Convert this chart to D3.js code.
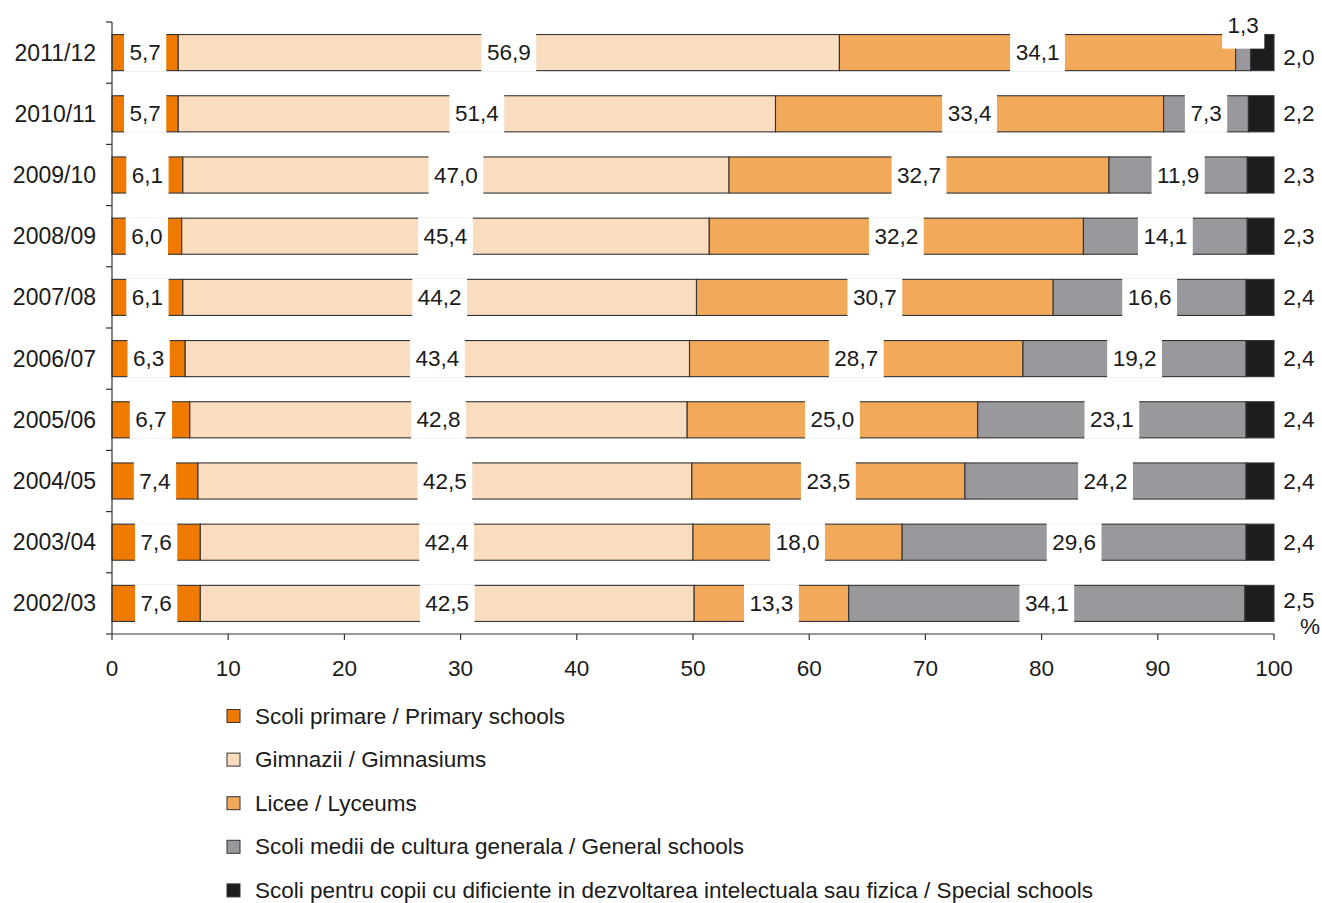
<!DOCTYPE html>
<html>
<head>
<meta charset="utf-8">
<script src="https://cdn.jsdelivr.net/npm/d3@7"></script>
<style>
  html, body { margin: 0; padding: 0; background: #fff; }
  svg text { font-family: "Liberation Sans", Arial, sans-serif; fill: #1a1a1a; }
</style>
</head>
<body>
<svg id="chart" width="1322" height="903"></svg>
<script>
const categories = ["2011/12","2010/11","2009/10","2008/09","2007/08","2006/07","2005/06","2004/05","2003/04","2002/03"];
const primary  = [5.7, 5.7, 6.1, 6.0, 6.1, 6.3, 6.7, 7.4, 7.6, 7.6];
const gimnazii = [56.9, 51.4, 47.0, 45.4, 44.2, 43.4, 42.8, 42.5, 42.4, 42.5];
const licee    = [34.1, 33.4, 32.7, 32.2, 30.7, 28.7, 25.0, 23.5, 18.0, 13.3];
const general  = [1.3, 7.3, 11.9, 14.1, 16.6, 19.2, 23.1, 24.2, 29.6, 34.1];
const special  = [2.0, 2.2, 2.3, 2.3, 2.4, 2.4, 2.4, 2.4, 2.4, 2.5];
const seriesKeys = ["primary","gimnazii","licee","general","special"];
const seriesNames = [
  "Scoli primare / Primary schools",
  "Gimnazii / Gimnasiums",
  "Licee / Lyceums",
  "Scoli medii de cultura generala / General schools",
  "Scoli pentru copii cu dificiente in dezvoltarea intelectuala sau fizica / Special schools"
];
const seriesColors = ["#EE7A00","#FADDBF","#F3A95A","#99989D","#1D1D20"];
const xTicks = [0,10,20,30,40,50,60,70,80,90,100];
const unitLabel = "%";

const FS = 22.5;
const svg = d3.select("#chart");
const fmt = v => d3.format(".1f")(v).replace(".", ",");

const table = categories.map((c, i) => ({
  cat: c, primary: primary[i], gimnazii: gimnazii[i], licee: licee[i], general: general[i], special: special[i]
}));
const stacked = d3.stack().keys(seriesKeys)(table);

const x = d3.scaleLinear().domain([0, 100]).range([112, 1274]);
const y = d3.scaleBand().domain(categories).range([22, 634]).paddingInner(0.41).paddingOuter(0.205);
const color = d3.scaleOrdinal().domain(seriesKeys).range(seriesColors);

// bars
const g = svg.append("g");
stacked.forEach(layer => {
  g.append("g").selectAll("rect").data(layer).join("rect")
    .attr("x", d => x(d[0]))
    .attr("y", d => y(d.data.cat))
    .attr("width", d => x(d[1]) - x(d[0]))
    .attr("height", y.bandwidth())
    .attr("fill", color(layer.key))
    .attr("stroke", "#333")
    .attr("stroke-width", 1.1);
});

// y axis
const step = y.step();
const axisG = svg.append("g").attr("stroke", "#333").attr("stroke-width", 1.2);
axisG.append("line").attr("x1", x(0)).attr("x2", x(0)).attr("y1", 22).attr("y2", 634);
const boundaries = categories.map(c => y(c) - step * y.paddingInner() / 2).concat([634]);
axisG.selectAll(".yt").data(boundaries).join("line")
  .attr("x1", x(0) - 6).attr("x2", x(0)).attr("y1", d => d).attr("y2", d => d);
// x axis
axisG.append("line").attr("x1", x(0)).attr("x2", x(100)).attr("y1", 634).attr("y2", 634);
axisG.selectAll(".xt").data(xTicks).join("line")
  .attr("x1", d => x(d)).attr("x2", d => x(d)).attr("y1", 634).attr("y2", 640);

svg.append("g").selectAll("text").data(xTicks).join("text")
  .attr("x", d => x(d)).attr("y", 668)
  .attr("text-anchor", "middle").attr("dominant-baseline", "central")
  .attr("font-size", FS).text(d => d);

svg.append("g").selectAll("text").data(categories).join("text")
  .attr("x", 96).attr("y", d => y(d) + y.bandwidth() / 2)
  .attr("text-anchor", "end").attr("dominant-baseline", "central")
  .attr("font-size", 23).text(d => d);

// value labels with white boxes (first four series)
const labelG = svg.append("g");
stacked.slice(0, 4).forEach(layer => {
  layer.forEach(d => {
    const cx = (x(d[0]) + x(d[1])) / 2;
    const cy = y(d.data.cat) + y.bandwidth() / 2;
    const txt = fmt(d[1] - d[0]);
    const t = labelG.append("text")
      .attr("x", cx).attr("font-size", FS)
      .attr("text-anchor", "middle").attr("dominant-baseline", "central")
      .text(txt);
    const w = t.node().getComputedTextLength() + 11;
    const segW = x(d[1]) - x(d[0]);
    let boxY = y(d.data.cat) - 1, boxH = y.bandwidth() + 2, ty = cy;
    if (w > segW) { boxY = y(d.data.cat) - 24; boxH = y.bandwidth() + 2; ty = cy - 27; }
    t.attr("y", ty);
    labelG.insert("rect", () => t.node())
      .attr("x", cx - w / 2).attr("y", boxY).attr("width", w).attr("height", boxH)
      .attr("fill", "#fff");
  });
});

// special labels to right
const specialLayer = stacked[4];
const specialDy = categories.map((c, i) => i === 0 ? 5 : (i === categories.length - 1 ? -3 : 0));
svg.append("g").selectAll("text").data(specialLayer).join("text")
  .attr("x", 1299).attr("y", (d, i) => y(d.data.cat) + y.bandwidth() / 2 + specialDy[i])
  .attr("text-anchor", "middle").attr("dominant-baseline", "central")
  .attr("font-size", FS).text(d => fmt(d[1] - d[0]));

svg.append("text").attr("x", 1310).attr("y", 626)
  .attr("text-anchor", "middle").attr("dominant-baseline", "central")
  .attr("font-size", FS).text(unitLabel);

// legend
const leg = svg.append("g").selectAll("g").data(seriesNames).join("g")
  .attr("transform", (d, i) => `translate(227, ${716 + i * 43.6})`);
leg.append("rect").attr("x", 0).attr("y", -6.5).attr("width", 13).attr("height", 13)
  .attr("fill", (d, i) => seriesColors[i]).attr("stroke", "#333").attr("stroke-width", 1);
leg.append("text").attr("x", 28).attr("y", 0).attr("dominant-baseline", "central")
  .attr("font-size", FS).text(d => d);
</script>
</body>
</html>
